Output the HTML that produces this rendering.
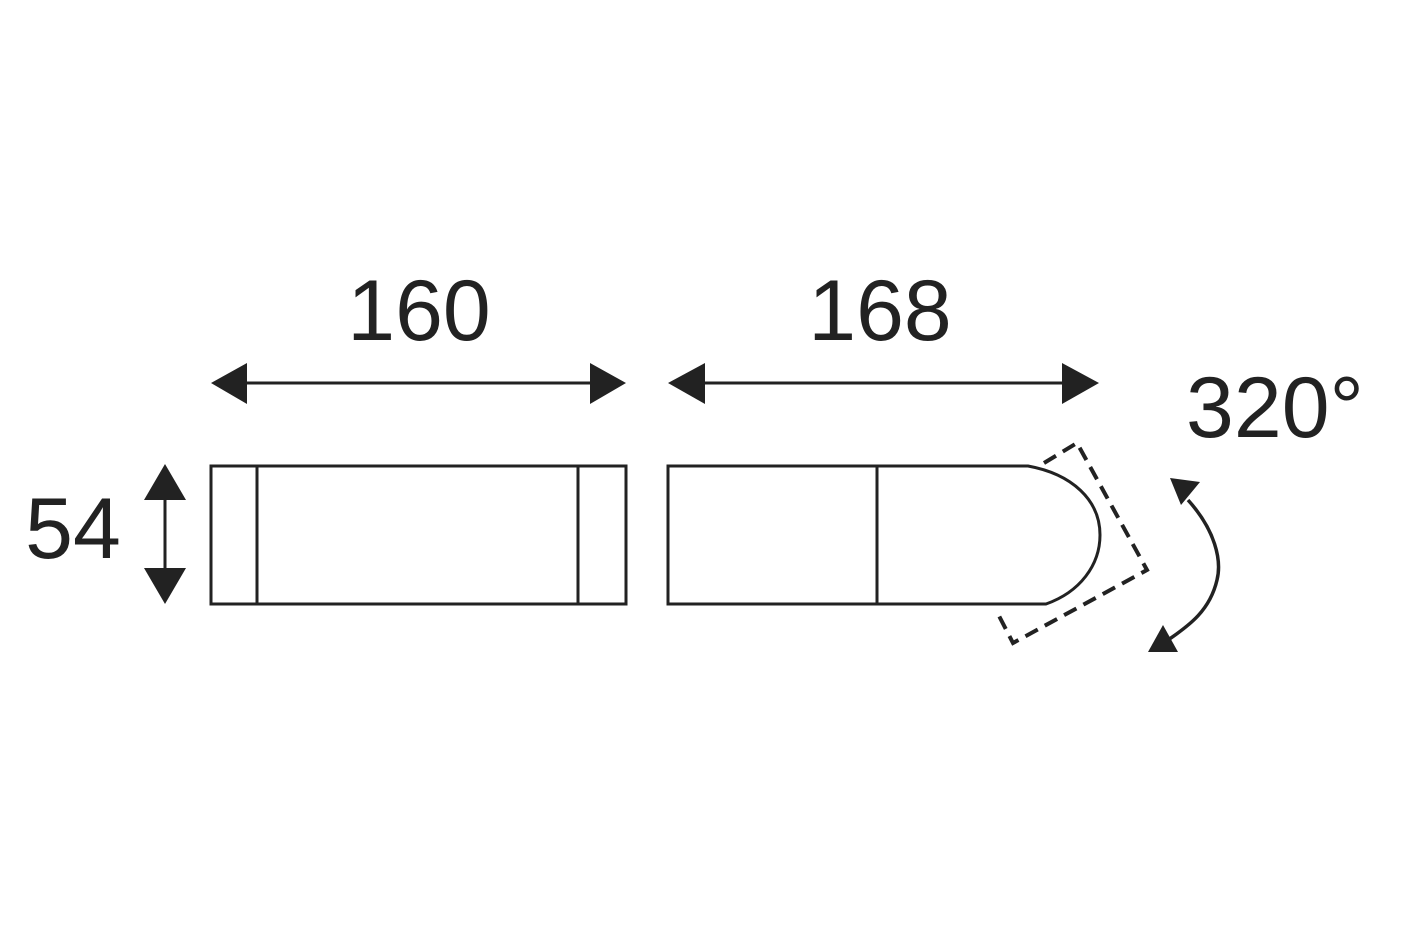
<!DOCTYPE html>
<html><head><style>body{margin:0;background:#fff}svg{display:block}</style></head><body>
<svg width="1418" height="945" viewBox="0 0 1418 945" xmlns="http://www.w3.org/2000/svg">
<g fill="none" stroke="#222" stroke-width="3">
<rect x="211" y="466" width="415" height="138"/>
<line x1="257" y1="466" x2="257" y2="604"/>
<line x1="578" y1="466" x2="578" y2="604"/>
<path d="M1028,466 H668 V604 H1046 C1080,592 1100,565 1100,535 C1100,500 1072,474 1028,466 Z"/>
<line x1="877" y1="466" x2="877" y2="604"/>
<path d="M1044,463 L1077,443 L1147,570 L1013,643 L997,612" stroke-dasharray="14,8" stroke-width="4"/>
<line x1="240" y1="383" x2="596" y2="383"/>
<line x1="700" y1="383" x2="1068" y2="383"/>
<line x1="165" y1="495" x2="165" y2="575"/>
<path d="M1188,500 C1215,530 1222,560 1217,580 C1210,610 1190,625 1168,640" stroke-width="3.5"/>
</g>
<g fill="#222">
<polygon points="211,383 247,363 247,404"/>
<polygon points="626,383 590,363 590,404"/>
<polygon points="668,383 705,363 705,404"/>
<polygon points="1099,383 1062,363 1062,404"/>
<polygon points="165,464 144,500 186,500"/>
<polygon points="165,604 144,568 186,568"/>
<polygon points="1170,478 1200,482 1181,505"/>
<polygon points="1148,652 1163,625 1178,652"/>
</g>
<g font-family="Liberation Sans, DejaVu Sans, sans-serif" font-size="86" fill="#222">
<text x="419" y="340" text-anchor="middle">160</text>
<text x="880" y="340" text-anchor="middle">168</text>
<text x="1275" y="437" text-anchor="middle">320°</text>
<text x="73" y="558" text-anchor="middle">54</text>
</g>
</svg>
</body></html>
